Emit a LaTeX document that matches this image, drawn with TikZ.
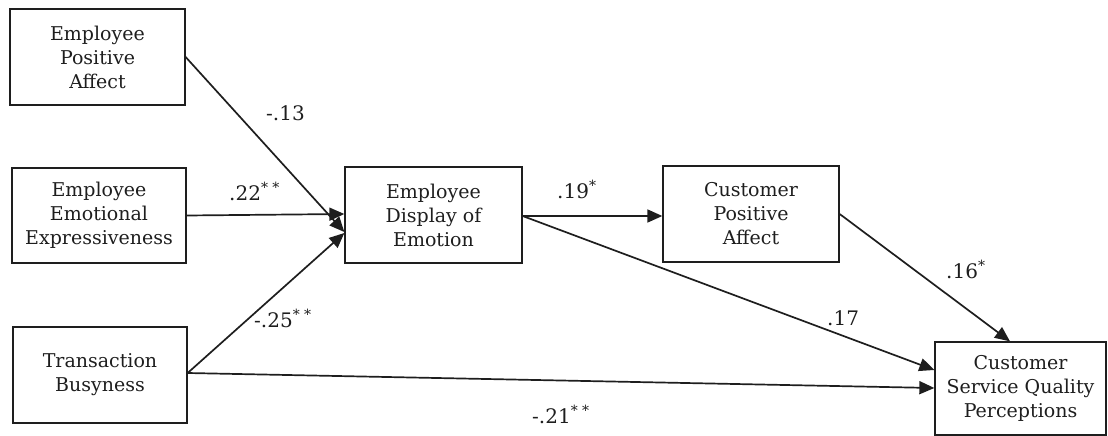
\documentclass[tikz,border=0pt]{standalone}
\usepackage{fontspec}
\setmainfont{DejaVu Serif}
\usetikzlibrary{arrows.meta}
\definecolor{ink}{HTML}{1e1e1e}
\tikzset{
  varbox/.style={draw=ink, line width=1.3pt, rectangle, align=center, inner sep=0pt,
    font=\fontsize{19}{24}\selectfont, text=ink},
  path/.style={draw=ink, line width=1.7pt, -{Triangle[length=15pt,width=13pt]}},
  coef/.style={anchor=base west, inner sep=0pt, font=\fontsize{20}{22}\selectfont, text=ink}
}
\newcommand{\sig}[1]{\textsuperscript{\fontsize{14}{14}\selectfont #1}}
\begin{document}
\begin{tikzpicture}[x=1pt,y=-1pt]
\useasboundingbox (0,0) rectangle (1108,436);
\node[varbox, minimum width=175pt, minimum height=96pt] (epa) at (97.5,57) {Employee\\Positive\\Affect};
\node[varbox, minimum width=174pt, minimum height=95pt] (eee) at (99,215.5) {Employee\\Emotional\\Expressiveness};
\node[varbox, minimum width=174pt, minimum height=96pt] (tb) at (100,375) {Transaction\\Busyness};
\node[varbox, minimum width=177pt, minimum height=96pt] (ede) at (433.5,215) {Employee\\Display of\\Emotion};
\node[varbox, minimum width=176pt, minimum height=96pt] (cpa) at (751,214) {Customer\\Positive\\Affect};
\node[varbox, minimum width=171pt, minimum height=93pt] (csq) at (1020.5,388.5) {Customer\\Service Quality\\Perceptions};

\draw[path] (epa.east) -- ([yshift=-17pt]ede.west);
\draw[path] (eee.east) -- ([yshift=1pt]ede.west);
\draw[path] ([yshift=2pt]tb.east) -- ([yshift=-18pt]ede.west);
\draw[path] ([yshift=-1pt]ede.east) -- ([yshift=-2pt]cpa.west);
\draw[path] ([yshift=-1pt]ede.east) -- ([yshift=18.5pt]csq.west);
\draw[path] (cpa.east) -- ([xshift=-10.5pt]csq.north);
\draw[path] ([yshift=2pt]tb.east) -- ([yshift=0.5pt]csq.west);

\node[coef] (c1) at (266,120) {-.13};
\node[coef] (c2) at (229,200) {.22\sig{* *}};
\node[coef] (c3) at (254,327) {-.25\sig{* *}};
\node[coef] (c4) at (557,198) {.19\sig{*}};
\node[coef] (c5) at (827,325) {.17};
\node[coef] (c6) at (946,278) {.16\sig{*}};
\node[coef] (c7) at (532,423) {-.21\sig{* *}};
\end{tikzpicture}
\end{document}
